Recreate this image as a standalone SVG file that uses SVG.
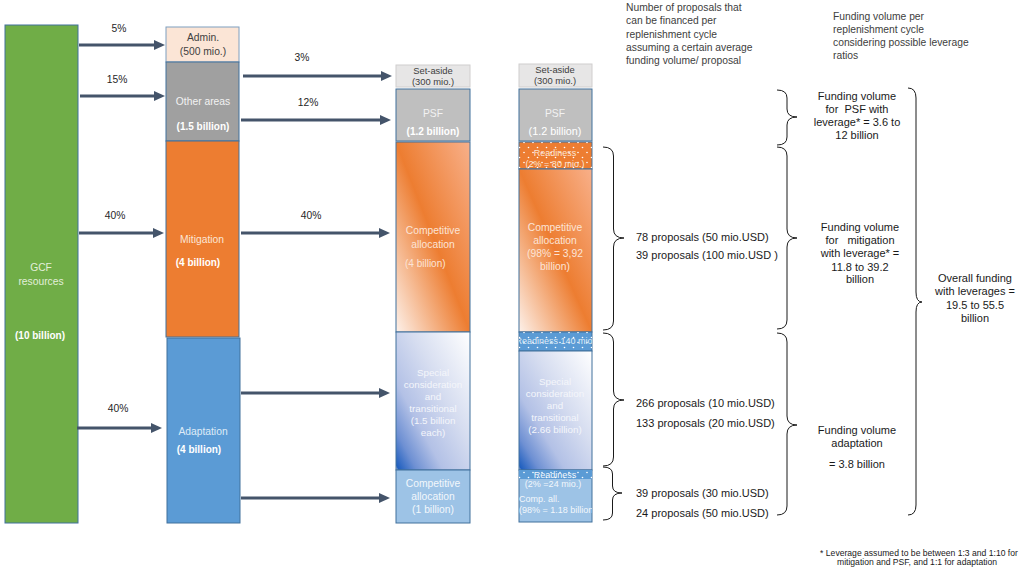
<svg xmlns="http://www.w3.org/2000/svg" width="1022" height="575" viewBox="0 0 1022 575">
<style>
text{font-family:"Liberation Sans",Arial,sans-serif}
.box{stroke:#41719C;stroke-width:1}
.sa{fill:#E7E6E6;stroke:#D0CECE;stroke-width:1}
.lbl{font-size:10.3px;fill:#262626}
.c{text-anchor:middle}
.lt{font-size:10.3px;fill:#F2F2F2}
.bw{font-size:10px;fill:#FFFFFF;font-weight:bold}
.dk{font-size:9.4px;fill:#404040}
.sm{font-size:9px}
.arr{stroke:#44546A;stroke-width:3;fill:none;marker-end:url(#ah)}
.br{stroke:#1A1A1A;stroke-width:1;fill:none}
.t11{font-size:11px;fill:#1A1A1A}
.hd{font-size:10.3px;fill:#404040}
</style>
<defs>
<marker id="ah" markerUnits="userSpaceOnUse" markerWidth="12" markerHeight="11" refX="2" refY="5" orient="auto">
<path d="M0,0 L11,5 L0,10 z" fill="#44546A"/>
</marker>
<linearGradient id="gOr" x1="0" y1="1" x2="1" y2="0">
<stop offset="0" stop-color="#FDF1EA"/>
<stop offset="0.5" stop-color="#ED7D31"/>
<stop offset="1" stop-color="#F8B08A"/>
</linearGradient>
<linearGradient id="gBl" x1="0" y1="1" x2="1" y2="0">
<stop offset="0" stop-color="#E6D6E6"/>
<stop offset="0.02" stop-color="#1F5FBF"/>
<stop offset="0.14" stop-color="#6E90D3"/>
<stop offset="0.32" stop-color="#B3C1E6"/>
<stop offset="0.6" stop-color="#D6DDF0"/>
<stop offset="1" stop-color="#FFFFFF"/>
</linearGradient>
<pattern id="dots" patternUnits="userSpaceOnUse" width="9" height="10">
<circle cx="2" cy="2.5" r="0.8" fill="#FFFFFF"/>
<circle cx="6.5" cy="7.5" r="0.8" fill="#FFFFFF"/>
</pattern>
<clipPath id="clipR"><rect x="519" y="332" width="73" height="19"/></clipPath>
<clipPath id="clipC"><rect x="519" y="470" width="73" height="52"/></clipPath>
</defs>

<g id="gcf">
<rect class="box" x="5" y="25" width="73" height="498" fill="#70AD47"/>
<text class="c" x="41" y="271" font-size="10.3" fill="#E2EFDA">GCF</text>
<text class="c" x="41" y="285" font-size="10.3" fill="#E2EFDA">resources</text>
<text class="c bw" x="40" y="339">(10 billion)</text>
</g>

<g id="admin">
<rect x="166" y="27" width="73" height="35" fill="#FBE5D6" stroke="#7F9FC0" stroke-width="1"/>
<text class="c" x="203" y="41" font-size="10.3" fill="#404040">Admin.</text>
<text class="c" x="203" y="55" font-size="10.3" fill="#404040">(500 mio.)</text>
</g>
<g id="other-areas">
<rect class="box" x="166" y="62" width="73" height="79" fill="#A0A0A0"/>
<text class="c lt" x="203" y="105">Other areas</text>
<text class="c bw" x="203" y="130">(1.5 billion)</text>
</g>
<g id="mitigation">
<rect class="box" x="166" y="141" width="73" height="196" fill="#ED7D31"/>
<text class="c" x="202" y="243" font-size="10.3" fill="#FBE5D6">Mitigation</text>
<text class="c bw" x="198" y="266">(4 billion)</text>
</g>
<g id="adaptation">
<rect class="box" x="167" y="338" width="73" height="185" fill="#5B9BD5"/>
<text class="c" x="203" y="435" font-size="10.3" fill="#DEEBF7">Adaptation</text>
<text class="c bw" x="199" y="453">(4 billion)</text>
</g>

<g id="col3-setaside">
<rect class="sa" x="396" y="65" width="74" height="22"/>
<text class="c dk" x="433" y="74">Set-aside</text>
<text class="c dk" x="433" y="85">(300 mio.)</text>
</g>
<g id="col3-psf">
<rect class="box" x="396" y="89" width="74" height="52" fill="#BFBFBF"/>
<text class="c lt" x="433" y="117">PSF</text>
<text class="c bw" x="433" y="135">(1.2 billion)</text>
</g>
<g id="col3-competitive">
<rect class="box" x="396" y="142" width="74" height="190" fill="url(#gOr)"/>
<text class="c" x="433" y="234" font-size="10.3" fill="#FCE4D6">Competitive</text>
<text class="c" x="433" y="248" font-size="10.3" fill="#FCE4D6">allocation</text>
<text x="405" y="267" font-size="10" fill="#FCE4D6">(4 billion)</text>
</g>
<g id="col3-special">
<rect class="box" x="396" y="332" width="74" height="138" fill="url(#gBl)"/>
<g class="c" font-size="9.8" fill="#F4F6FB">
<text x="433" y="376">Special</text>
<text x="433" y="388">consideration</text>
<text x="433" y="400">and</text>
<text x="433" y="412">transitional</text>
<text x="433" y="424">(1.5 billion</text>
<text x="433" y="436">each)</text>
</g>
</g>
<g id="col3-comp-adapt">
<rect class="box" x="396" y="470" width="74" height="53" fill="#9DC3E6"/>
<text class="c" x="433" y="487" font-size="10.3" fill="#F2F7FC">Competitive</text>
<text class="c" x="433" y="500" font-size="10.3" fill="#F2F7FC">allocation</text>
<text class="c" x="433" y="513" font-size="10.3" fill="#F2F7FC">(1 billion)</text>
</g>

<g id="col4-setaside">
<rect class="sa" x="519" y="64" width="73" height="23"/>
<text class="c dk" x="555" y="73">Set-aside</text>
<text class="c dk" x="555" y="84">(300 mio.)</text>
</g>
<g id="col4-psf">
<rect class="box" x="519" y="89" width="73" height="52" fill="#BFBFBF"/>
<text class="c lt" x="555" y="117">PSF</text>
<text class="c" x="555" y="135" font-size="10.8" fill="#FFFFFF">(1.2 billion)</text>
</g>
<g id="col4-readiness-mit">
<rect class="box" x="519" y="142" width="73" height="27" fill="#ED7D31"/>
<rect x="519" y="142" width="73" height="27" fill="url(#dots)"/>
<text class="c sm" x="555" y="156" fill="#FBE5D6">Readiness</text>
<text class="c sm" x="555" y="167" fill="#FBE5D6">(2% = 80 mio.)</text>
</g>
<g id="col4-competitive">
<rect class="box" x="519" y="169" width="73" height="163" fill="url(#gOr)"/>
<g class="c" font-size="10.3" fill="#FCE4D6">
<text x="555" y="231">Competitive</text>
<text x="555" y="244">allocation</text>
<text x="555" y="257">(98% = 3,92</text>
<text x="555" y="270">billion)</text>
</g>
</g>
<g id="col4-readiness-adapt">
<rect class="box" x="519" y="332" width="73" height="19" fill="#5B9BD5"/>
<rect x="519" y="332" width="73" height="19" fill="url(#dots)"/>
<text class="c" x="554" y="344" font-size="9" fill="#DEEBF7" clip-path="url(#clipR)">Readiness 140 mio</text>
</g>
<g id="col4-special">
<rect class="box" x="519" y="351" width="73" height="119" fill="url(#gBl)"/>
<g class="c" font-size="9.8" fill="#F4F6FB">
<text x="555" y="385">Special</text>
<text x="555" y="397">consideration</text>
<text x="555" y="409">and</text>
<text x="555" y="421">transitional</text>
<text x="555" y="433">(2.66 billion)</text>
</g>
</g>
<g id="col4-comp-adapt">
<rect class="box" x="519" y="470" width="73" height="52" fill="#9DC3E6"/>
<rect x="519" y="470" width="73" height="9" fill="#5B9BD5"/>
<rect x="519" y="470" width="73" height="9" fill="url(#dots)"/>
<g font-size="9" fill="#F2F7FC" clip-path="url(#clipC)">
<text class="c" x="555" y="478">Readiness</text>
<text class="c" x="553" y="487">(2% =24 mio.)</text>
<text x="519" y="502">Comp. all.</text>
<text x="519" y="513">(98% = 1.18 billion</text>
</g>
</g>

<g id="connectors">
<path class="arr" d="M79,45 H156"/>
<path class="arr" d="M80,96 H156"/>
<path class="arr" d="M79,233 H155"/>
<path class="arr" d="M77,428 H153"/>
<path class="arr" d="M243,76 H383"/>
<path class="arr" d="M241,120 H382"/>
<path class="arr" d="M241,233 H381"/>
<path class="arr" d="M241,393 H381"/>
<path class="arr" d="M241,498 H381"/>
<g class="lbl c">
<text x="119" y="32">5%</text>
<text x="117" y="83">15%</text>
<text x="115" y="219">40%</text>
<text x="118" y="412">40%</text>
<text x="302" y="61">3%</text>
<text x="308" y="106">12%</text>
<text x="311" y="219">40%</text>
</g>
<path class="br" d="M603,147 Q613.5,147 613.5,156 L613.5,229 Q613.5,238 624,238 Q613.5,238 613.5,247 L613.5,321 Q613.5,330 603,330"/>
<path class="br" d="M603,333 Q613.5,333 613.5,342 L613.5,391 Q613.5,400 624,400 Q613.5,400 613.5,409 L613.5,457 Q613.5,466 603,466"/>
<path class="br" d="M603,467 Q612.5,467 612.5,474 L612.5,486 Q612.5,493 622,493 Q612.5,493 612.5,500 L612.5,513 Q612.5,520 603,520"/>
<path class="br" d="M777,90 Q787,90 787,98 L787,109 Q787,117 797,117 Q787,117 787,125 L787,137 Q787,145 777,145"/>
<path class="br" d="M777,147 Q787,147 787,156 L787,229 Q787,238 797,238 Q787,238 787,247 L787,320 Q787,329 777,329"/>
<path class="br" d="M777,333 Q787,333 787,342 L787,416 Q787,425 797,425 Q787,425 787,434 L787,506 Q787,515 777,515"/>
<path class="br" d="M908,88 Q916,88 916,98 L916,292 Q916,302 922,302 Q916,302 916,312 L916,505 Q916,515 908,515"/>
</g>

<g id="header-proposals" class="hd">
<text x="626" y="11">Number of proposals that</text>
<text x="626" y="24.3">can be financed per</text>
<text x="626" y="37.6">replenishment cycle</text>
<text x="626" y="51">assuming a certain average</text>
<text x="626" y="64.3">funding volume/ proposal</text>
</g>
<g id="header-funding" class="hd">
<text x="833" y="19.5">Funding volume per</text>
<text x="833" y="32.8">replenishment cycle</text>
<text x="833" y="46">considering possible leverage</text>
<text x="833" y="59.3">ratios</text>
</g>

<g id="psf-funding" class="t11 c">
<text x="857" y="99.5">Funding volume</text>
<text x="857" y="112.5" xml:space="preserve">for  PSF with</text>
<text x="857" y="125.5">leverage* = 3.6 to</text>
<text x="857" y="138.5">12 billion</text>
</g>
<g id="mit-proposals" class="t11">
<text x="636" y="241">78 proposals (50 mio.USD)</text>
<text x="636" y="259">39 proposals (100 mio.USD )</text>
</g>
<g id="mit-funding" class="t11 c">
<text x="860" y="231">Funding volume</text>
<text x="860" y="244" xml:space="preserve">for   mitigation</text>
<text x="860" y="257">with leverage* =</text>
<text x="860" y="270.5">11.8 to 39.2</text>
<text x="860" y="283">billion</text>
</g>
<g id="overall-funding" class="t11 c">
<text x="975" y="282">Overall funding</text>
<text x="975" y="295">with leverages =</text>
<text x="975" y="308.5">19.5 to 55.5</text>
<text x="975" y="322">billion</text>
</g>
<g id="adapt-proposals" class="t11">
<text x="636" y="407">266 proposals (10 mio.USD)</text>
<text x="636" y="427">133 proposals (20 mio.USD)</text>
<text x="636" y="497">39 proposals (30 mio.USD)</text>
<text x="636" y="517">24 proposals (50 mio.USD)</text>
</g>
<g id="adapt-funding" class="t11 c">
<text x="857" y="434">Funding volume</text>
<text x="857" y="447">adaptation</text>
<text x="857" y="468">= 3.8 billion</text>
</g>
<g id="footnote" class="c" font-size="8.6" fill="#1A1A1A">
<text x="919" y="556">* Leverage assumed to be between 1:3 and 1:10 for</text>
<text x="917" y="565">mitigation and PSF, and 1:1 for adaptation</text>
</g>
</svg>
